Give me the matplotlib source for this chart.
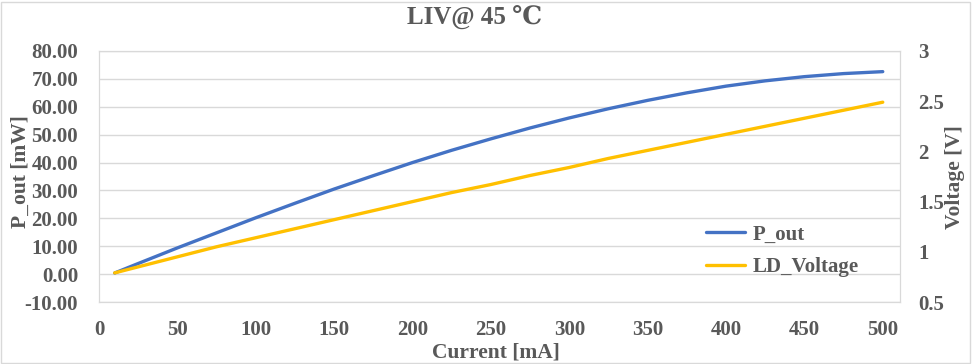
import numpy as np
import matplotlib
matplotlib.use('Agg')
import matplotlib.pyplot as plt
from matplotlib.patches import Rectangle

# data
current_ma = [10, 25, 50, 75, 100, 125, 150, 175, 200, 225, 250, 275,
              300, 325, 350, 375, 400, 425, 450, 475, 500]
p_out_mw = [0.4, 3.8, 9.4, 14.8, 20.2, 25.4, 30.5, 35.3, 40.0, 44.4, 48.5, 52.4,
            56.0, 59.3, 62.3, 65.0, 67.4, 69.3, 70.8, 71.9, 72.6]
ld_voltage = [0.79, 0.85, 0.95, 1.05, 1.14, 1.23, 1.32, 1.41, 1.50, 1.59, 1.67, 1.76,
              1.84, 1.93, 2.01, 2.09, 2.17, 2.25, 2.33, 2.41, 2.49]

x_ticks = [0, 50, 100, 150, 200, 250, 300, 350, 400, 450, 500]
y_ticks = [-10, 0, 10, 20, 30, 40, 50, 60, 70, 80]
v_ticks = [0.5, 1, 1.5, 2, 2.5, 3]

txt_col = '#595959'
grid_col = '#D9D9D9'
plt.rcParams['font.family'] = ['Liberation Serif', 'DejaVu Serif']
plt.rcParams['font.weight'] = 'bold'

W, H = 973, 364
fig = plt.figure(figsize=(W / 100, H / 100), dpi=100)
ax = fig.add_axes([99 / W, 1 - 302 / H, (900 - 99) / W, (302 - 51) / H])
ax2 = ax.twinx()

l1, = ax.plot(current_ma, p_out_mw, color='#4472C4', lw=2.4, label='P_out',
              solid_capstyle='round', solid_joinstyle='round', zorder=3)
l2, = ax2.plot(current_ma, ld_voltage, color='#FFC000', lw=2.4, label='LD_Voltage',
               solid_capstyle='round', solid_joinstyle='round', zorder=3)

ax.set_xlim(0, 511)
ax.set_ylim(-10, 80)
ax2.set_ylim(0.5, 3)
ax.set_xticks(x_ticks)
ax.set_yticks(y_ticks)
ax2.set_yticks(v_ticks)
ax.set_yticklabels([f'{v:.2f}' for v in y_ticks])
ax2.set_yticklabels([f'{v:g}' for v in v_ticks])

ax.grid(axis='y', color=grid_col, lw=1)
ax.set_axisbelow(True)
for a in (ax, ax2):
    for s in a.spines.values():
        s.set_color(grid_col)
    a.tick_params(length=0, labelsize=15, labelcolor=txt_col)
ax.tick_params(axis='y', pad=15)
ax.tick_params(axis='x', pad=13)
ax2.tick_params(axis='y', pad=13)
for lab in ax.get_xticklabels() + ax.get_yticklabels() + ax2.get_yticklabels():
    lab.set_fontweight('bold')

fig.text(475 / W, 1 - 18 / H, 'LIV@ 45 ℃', ha='center', va='center',
         fontsize=18, color=txt_col, fontweight='bold')
fig.text(21 / W, 1 - 172 / H, 'P_out [mW]', rotation=90, ha='center', va='center',
         fontsize=15.5, color=txt_col, fontweight='bold')
fig.text(955 / W, 1 - 177 / H, 'Voltage [V]', rotation=90, ha='center', va='center',
         fontsize=15.5, color=txt_col, fontweight='bold')
fig.text(496 / W, 1 - 353 / H, 'Current [mA]', ha='center', va='center',
         fontsize=15.5, color=txt_col, fontweight='bold')

leg = ax2.legend(handles=[l1, l2], loc='lower left', bbox_to_anchor=(0.735, 0.025),
                 frameon=False, fontsize=15, handlelength=1.85, handletextpad=0.35,
                 labelspacing=0.6)
for t in leg.get_texts():
    t.set_color(txt_col)
    t.set_fontweight('bold')

# chart border
fig.patches.append(Rectangle((1 / W, 1 / H), (W - 4) / W, (H - 3) / H, transform=fig.transFigure,
                             fill=False, edgecolor=grid_col, lw=1))

fig.savefig('out.png', dpi=100)
